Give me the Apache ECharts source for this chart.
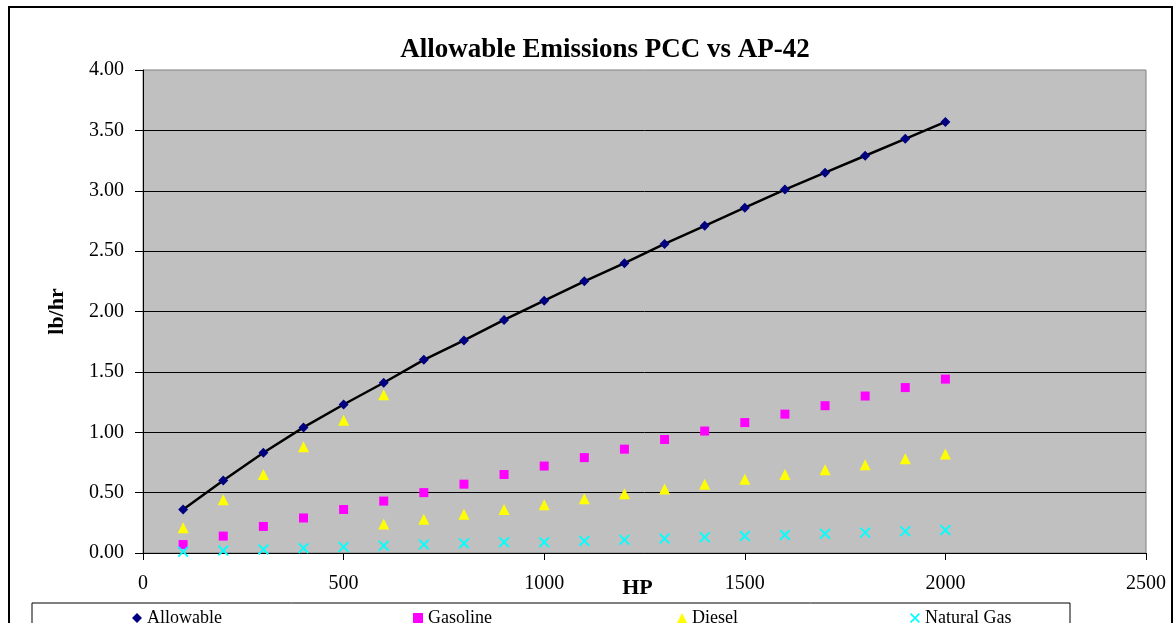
<!DOCTYPE html>
<html>
<head>
<meta charset="utf-8">
<script src="https://cdn.jsdelivr.net/npm/echarts@6/dist/echarts.min.js"></script>
<style>
html,body{margin:0;padding:0;background:#fff;}
#chart{width:1175px;height:623px;}
</style>
</head>
<body>
<div id="chart"></div>
<script>
const hp = [100,200,300,400,500,600,700,800,900,1000,1100,1200,1300,1400,1500,1600,1700,1800,1900,2000];
const allowable = [0.36,0.60,0.83,1.04,1.23,1.41,1.60,1.76,1.93,2.09,2.25,2.40,2.56,2.71,2.86,3.01,3.15,3.29,3.43,3.57];
const gasoline = [0.07,0.14,0.22,0.29,0.36,0.43,0.50,0.57,0.65,0.72,0.79,0.86,0.94,1.01,1.08,1.15,1.22,1.30,1.37,1.44];
const dieselHp = [100,200,300,400,500,600,600,700,800,900,1000,1100,1200,1300,1400,1500,1600,1700,1800,1900,2000];
const diesel = [0.21,0.44,0.65,0.88,1.10,1.31,0.24,0.28,0.32,0.36,0.40,0.45,0.49,0.53,0.57,0.61,0.65,0.69,0.73,0.78,0.82];
const naturalGas = [0.01,0.02,0.03,0.04,0.05,0.06,0.07,0.08,0.09,0.09,0.10,0.11,0.12,0.13,0.14,0.15,0.16,0.17,0.18,0.19];
const yTicks = ['0.00','0.50','1.00','1.50','2.00','2.50','3.00','3.50','4.00'];
const xTicks = ['0','500','1000','1500','2000','2500'];

const pairs = (xs, ys) => xs.map((x, i) => [x, ys[i]]);
const serif = '"Liberation Serif", "Times New Roman", serif';
const xIcon = 'path://M0,1.2L1.2,0L5,3.8L8.8,0L10,1.2L6.2,5L10,8.8L8.8,10L5,6.2L1.2,10L0,8.8L3.8,5Z';

const chart = echarts.init(document.getElementById('chart'));
const legendBase = { top: 604, itemWidth: 10, itemHeight: 10, itemGap: 0,
  textStyle: { fontFamily: serif, fontSize: 18, color: '#000' }, selectedMode: false };
chart.setOption({
  animation: false,
  backgroundColor: '#fff',
  title: {
    text: 'Allowable Emissions PCC vs AP-42',
    left: 600, textAlign: 'center', top: 32,
    textStyle: { fontFamily: serif, fontSize: 27, fontWeight: 'bold', color: '#000' }
  },
  grid: {
    left: 143, right: 29, top: 70, bottom: 70,
    outerBoundsMode: 'none', containLabel: false,
    show: true, backgroundColor: '#C0C0C0', borderColor: '#808080', borderWidth: 1
  },
  xAxis: {
    type: 'value', min: 0, max: 2500, interval: 500,
    name: 'HP', nameLocation: 'middle', nameGap: 24, nameMoveOverlap: false,
    nameTextStyle: { fontFamily: serif, fontSize: 22, fontWeight: 'bold', color: '#000', padding: [0, 14, 0, 0] },
    axisLine: { show: true, onZero: false, lineStyle: { color: '#000', width: 1 } },
    axisTick: { show: true, length: 7, lineStyle: { color: '#000' } },
    axisLabel: { fontFamily: serif, fontSize: 20, color: '#000', margin: 21,
      formatter: (v) => xTicks[Math.round(v / 500)] },
    splitLine: { show: false }
  },
  yAxis: {
    type: 'value', min: 0, max: 4, interval: 0.5,
    name: 'lb/hr', nameLocation: 'middle', nameRotate: 90, nameGap: 75, nameMoveOverlap: false,
    nameTextStyle: { fontFamily: serif, fontSize: 22, fontWeight: 'bold', color: '#000' },
    axisLine: { show: true, lineStyle: { color: '#000', width: 1 } },
    axisTick: { show: true, length: 8, lineStyle: { color: '#000' } },
    axisLabel: { fontFamily: serif, fontSize: 20, color: '#000', margin: 19,
      formatter: (v) => yTicks[Math.round(v / 0.5)] },
    splitLine: { show: true, showMaxLine: false, lineStyle: { color: '#000', width: 1 } }
  },
  legend: [
    Object.assign({ left: 127, data: [{ name: 'Allowable', icon: 'diamond' }] }, legendBase),
    Object.assign({ left: 408, data: [{ name: 'Gasoline', icon: 'rect' }] }, legendBase),
    Object.assign({ left: 672, data: [{ name: 'Diesel', icon: 'triangle' }] }, legendBase),
    Object.assign({ left: 905, data: [{ name: 'Natural Gas', icon: xIcon }] }, legendBase)
  ],
  graphic: [
    { type: 'rect', shape: { x: 9, y: 7, width: 1163, height: 660 },
      style: { fill: 'none', stroke: '#000', lineWidth: 2 }, z: 100, silent: true },
    { type: 'rect', shape: { x: 32, y: 603, width: 1038, height: 60 },
      style: { fill: 'none', stroke: '#000', lineWidth: 1 }, z: 100, silent: true }
  ],
  series: [
    { name: 'Allowable', type: 'line', data: pairs(hp, allowable),
      symbol: 'diamond', symbolSize: 10, showAllSymbol: true,
      lineStyle: { color: '#000', width: 2.5 },
      itemStyle: { color: '#000080' }, z: 5 },
    { name: 'Gasoline', type: 'scatter', data: pairs(hp, gasoline),
      symbol: 'rect', symbolSize: 9, itemStyle: { color: '#FF00FF', opacity: 1 } },
    { name: 'Diesel', type: 'scatter', data: pairs(dieselHp, diesel),
      symbol: 'triangle', symbolSize: 11, itemStyle: { color: '#FFFF00', opacity: 1 } },
    { name: 'Natural Gas', type: 'scatter', data: pairs(hp, naturalGas),
      symbol: xIcon, symbolSize: 11, itemStyle: { color: '#00FFFF', opacity: 1 } }
  ]
});
</script>
</body>
</html>
